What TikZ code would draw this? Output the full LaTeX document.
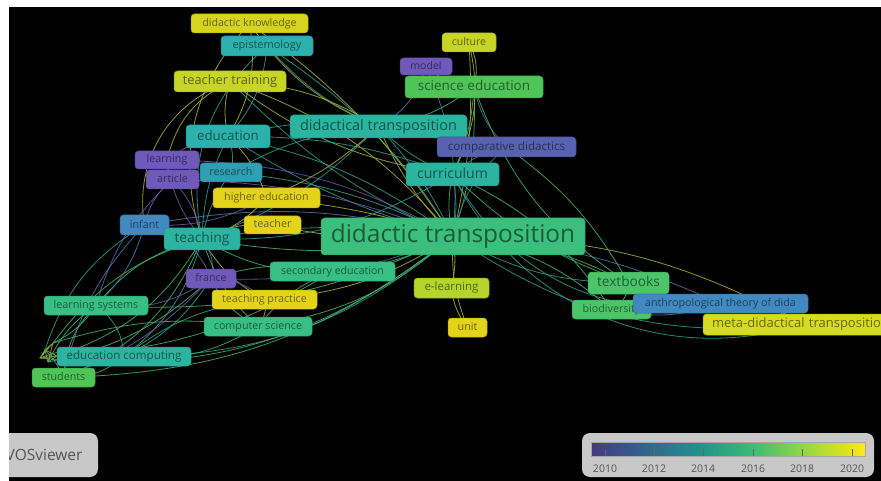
\documentclass[tikz,border=0pt]{standalone}
\usepackage{fontspec}
\setmainfont{Open Sans}
\pgfdeclarelayer{bg}\pgfdeclarelayer{edges}\pgfdeclarelayer{front}
\pgfsetlayers{bg,edges,main,front}
\newcommand\fsz[1]{\fontsize{#1}{#1}\selectfont}
\newcommand\kwstrut{\vrule height .74em depth .2em width 0pt\relax}
% node colours
\definecolor{cYel}{HTML}{E4D31B}
\definecolor{cYelA}{HTML}{D6D41F}
\definecolor{cYelG}{HTML}{C6D526}
\definecolor{cYelM}{HTML}{D7DC22}
\definecolor{cLime}{HTML}{B7D42C}
\definecolor{cGreen}{HTML}{4FC558}
\definecolor{cGreenB}{HTML}{4CC46A}
\definecolor{cGreenT}{HTML}{38BF84}
\definecolor{cDT}{HTML}{3BBF7C}
\definecolor{cTeal}{HTML}{2BB4A0}
\definecolor{cCyan}{HTML}{2CB1AD}
\definecolor{cTealB}{HTML}{2F9FB3}
\definecolor{cBlue}{HTML}{4189C0}
\definecolor{cPurp}{HTML}{7159BC}
\definecolor{cPurpB}{HTML}{5862AE}
% edge colours
\definecolor{edT}{HTML}{2F9E8C}
\definecolor{edY}{HTML}{A9B235}
\definecolor{edG}{HTML}{47B26E}
\definecolor{edB}{HTML}{4A78A8}
\definecolor{edP}{HTML}{6A5AA8}
% legend
\definecolor{legbg}{HTML}{C8C8C8}
\definecolor{legtx}{HTML}{555555}
\definecolor{v0}{HTML}{443A83}
\definecolor{v1}{HTML}{2F6C8E}
\definecolor{v2}{HTML}{21958A}
\definecolor{v3}{HTML}{3DBC74}
\definecolor{v4}{HTML}{90D743}
\definecolor{v5}{HTML}{E8E419}
\definecolor{v6}{HTML}{FDE725}
\pgfdeclarehorizontalshading{viridisbar}{100bp}{color(0bp)=(v0); color(25bp)=(v0); color(36.5bp)=(v1); color(45.4bp)=(v2); color(54.6bp)=(v3); color(63.5bp)=(v4); color(72.6bp)=(v5); color(75bp)=(v6); color(100bp)=(v6)}
\tikzset{
  kw/.style={rectangle, rounded corners=3.5pt, fill=#1, draw=#1!80!black, line width=0.5pt,
    text=#1!48!black, inner sep=0pt, execute at begin node={\kwstrut}},
  ed/.style={line width=0.8pt, opacity=0.85},
  eT/.style={ed, draw=edT},
  eY/.style={ed, draw=edY},
  eG/.style={ed, draw=edG},
  eB/.style={ed, draw=edB},
  eP/.style={ed, draw=edP},
  legbox/.style={fill=legbg, rounded corners=8pt},
  ticklab/.style={font=\fsz{10.5}, text=legtx, inner sep=0pt},
}
\begin{document}
\begin{tikzpicture}[x=1pt,y=-1pt]
\useasboundingbox (0,0) rectangle (881,481);
\begin{pgfonlayer}{bg}
  \fill[white] (0,0) rectangle (881,481);
  \fill[black] (9,7) rectangle (881,481);
\end{pgfonlayer}

% ---------------- nodes ----------------
\node[kw=cYelA, minimum width=117pt, minimum height=19pt, font=\fsz{10.6}] (dk) at (249.5,23.5) {didactic knowledge};
\node[kw=cCyan, minimum width=92pt, minimum height=20pt, font=\fsz{11}] (epi) at (267,46) {epistemology};
\node[kw=cYelG, minimum width=112pt, minimum height=21pt, font=\fsz{12.8}] (tt) at (230,81.5) {teacher training};
\node[kw=cYelG, minimum width=54pt, minimum height=19pt, font=\fsz{10.5}] (cul) at (469,42.5) {culture};
\node[kw=cPurp, minimum width=52pt, minimum height=17pt, font=\fsz{10.5}] (mod) at (426,66.5) {model};
\node[kw=cGreen, minimum width=138pt, minimum height=22pt, font=\fsz{13.5}] (se) at (474,87) {science education};
\node[kw=cTeal, minimum width=177pt, minimum height=23pt, font=\fsz{14.5}] (dtr) at (378.5,126.5) {didactical transposition};
\node[kw=cPurpB, minimum width=139pt, minimum height=20pt, font=\fsz{11.6}] (cd) at (506.5,147) {comparative didactics};
\node[kw=cTeal, minimum width=93pt, minimum height=23pt, font=\fsz{14}] (cur) at (452.5,174.5) {curriculum};
\node[kw=cCyan, minimum width=84pt, minimum height=23pt, font=\fsz{13.3}] (edu) at (228,136.5) {education};
\node[kw=cPurp, minimum width=64pt, minimum height=18pt, font=\fsz{10.7}] (lrn) at (167,160) {learning};
\node[kw=cPurp, minimum width=53pt, minimum height=19pt, font=\fsz{10.7}] (art) at (172.5,179.5) {article};
\node[kw=cTealB, minimum width=62pt, minimum height=19pt, font=\fsz{10.7}] (res) at (231,172.5) {research};
\node[kw=cYel, minimum width=107pt, minimum height=20pt, font=\fsz{10.7}] (he) at (266.5,198) {higher education};
\node[kw=cYel, minimum width=57pt, minimum height=18pt, font=\fsz{10.7}] (tea) at (272.5,225) {teacher};
\node[kw=cBlue, minimum width=49pt, minimum height=20pt, font=\fsz{10.7}] (inf) at (144.5,225) {infant};
\node[kw=cTeal, minimum width=76pt, minimum height=22pt, font=\fsz{13.8}] (tch) at (202,239) {teaching};
\node[kw=cPurp, minimum width=50pt, minimum height=19pt, font=\fsz{10.7}] (fr) at (211,278.5) {france};
\node[kw=cGreenT, minimum width=125pt, minimum height=19pt, font=\fsz{10.6}] (sec) at (332.5,271.5) {secondary education};
\node[kw=cYel, minimum width=105pt, minimum height=19pt, font=\fsz{10.7}] (tp) at (264.5,299.5) {teaching practice};
\node[kw=cGreenT, minimum width=104pt, minimum height=19pt, font=\fsz{10.8}] (ls) at (96,305.5) {learning systems};
\node[kw=cGreenT, minimum width=108pt, minimum height=19pt, font=\fsz{10.7}] (cs) at (258,326.5) {computer science};
\node[kw=cTeal, minimum width=134pt, minimum height=19pt, font=\fsz{11.6}] (ec) at (124,356.5) {education computing};
\node[kw=cGreen, minimum width=63pt, minimum height=19pt, font=\fsz{10.7}] (stu) at (63.5,377.5) {students};
\node[kw=cDT, minimum width=264pt, minimum height=37pt, font=\fsz{24.4}] (dt) at (453,236.5) {didactic transposition};
\node[kw=cLime, minimum width=75pt, minimum height=20pt, font=\fsz{11.5}] (el) at (451.5,288) {e-learning};
\node[kw=cYel, minimum width=39pt, minimum height=19pt, font=\fsz{10.7}] (unit) at (467.5,327.5) {unit};
\node[kw=cGreenB, minimum width=81pt, minimum height=22pt, font=\fsz{13.7}] (tb) at (628.5,283) {textbooks};
\node[kw=cGreenB, minimum width=79pt, minimum height=19pt, font=\fsz{10.7}] (bio) at (611.5,309.5) {biodiversity};
\node[kw=cBlue, minimum width=175pt, minimum height=19pt, font=\fsz{10.7}] (atd) at (720.5,303.5) {anthropological theory of dida};
\node[kw=cYelM, minimum width=200pt, minimum height=21pt, font=\fsz{13}, text width=182pt, align=left] (meta) at (803,324.5) {meta-didactical transposition};

% hidden cluster points (the dense star near "students")
\coordinate (h1) at (45,350);
\coordinate (h2) at (53,343);
\coordinate (h3) at (40,358);
\coordinate (h4) at (57,356);
\coordinate (h5) at (48,362);

% ---------------- edges ----------------
\begin{pgfonlayer}{edges}
% hub: didactic transposition
\draw[eT] (dt.center) to[bend right=8] (dtr.center);
\draw[eY] (dt.center) to[bend left=10] (dtr.center);
\draw[eT] (dt.center) to[bend right=10] (cur.center);
\draw[eG] (dt.center) to[bend left=12] (cur.center);
\draw[eG] (dt.center) to[bend right=10] (se.center);
\draw[eY] (dt.center) to[bend right=8] (cul.center);
\draw[eB] (dt.center) to[bend right=14] (mod.center);
\draw[eB] (dt.center) to[bend left=18] (cd.center);
\draw[eT] (dt.center) to[bend right=12] (epi.center);
\draw[eY] (dt.center) to[bend right=10] (dk.center);
\draw[eY] (dt.center) to[bend right=15] (tt.center);
\draw[eT] (dt.center) to[bend left=10] (tt.center);
\draw[eT] (dt.center) to[bend right=12] (edu.center);
\draw[eT] (dt.center) to[bend left=8] (edu.center);
\draw[eT] (dt.center) to[bend right=10] (res.center);
\draw[eY] (dt.center) to[bend right=6] (he.center);
\draw[eY] (dt.center) to[bend left=8] (tea.center);
\draw[eT] (dt.center) to[bend right=8] (tch.center);
\draw[eG] (dt.center) to[bend left=10] (tch.center);
\draw[eB] (dt.center) to[bend right=12] (inf.center);
\draw[eP] (dt.center) to[bend right=14] (lrn.center);
\draw[eP] (dt.center) to[bend right=10] (art.center);
\draw[eP] (dt.center) to[bend left=12] (fr.center);
\draw[eG] (dt.center) to[bend left=10] (sec.center);
\draw[eY] (dt.center) to[bend left=14] (tp.center);
\draw[eG] (dt.center) to[bend left=16] (cs.center);
\draw[eG] (dt.center) to[bend left=14] (ls.center);
\draw[eT] (dt.center) to[bend left=20] (ec.center);
\draw[eG] (dt.center) to[bend left=18] (stu.center);
\draw[eY] (dt.center) to[bend left=10] (el.center);
\draw[eY] (dt.center) to[bend right=12] (unit.center);
\draw[eG] (dt.center) to[bend left=12] (tb.center);
\draw[eT] (dt.center) to[bend right=14] (tb.center);
\draw[eG] (dt.center) to[bend left=16] (bio.center);
\draw[eB] (dt.center) to[bend left=10] (atd.center);
\draw[eY] (dt.center) to[bend left=14] (meta.center);
\draw[eT] (dt.center) to[bend right=20] (meta.center);
% upper cluster
\draw[eT] (cur.center) to[bend right=35] (atd.center);
\draw[eT] (cur.center) to[bend right=40] (meta.center);
\draw[eG] (cur.center) to[bend right=12] (tb.center);
\draw[eG] (cur.center) to[bend left=15] (bio.center);
\draw[eG] (cur.center) to[bend right=10] (se.center);
\draw[eB] (cur.center) to[bend left=14] (cd.center);
\draw[eT] (cur.center) to[bend left=12] (dtr.center);
\draw[eY] (cur.center) to[bend left=14] (tt.center);
\draw[eT] (cur.center) to[bend right=10] (edu.center);
\draw[eT] (cur.center) to[bend left=16] (tch.center);
\draw[eY] (se.center) to[bend right=20] (cul.center);
\draw[eP] (se.center) to[bend left=18] (mod.center);
\draw[eG] (se.center) to[bend left=14] (dtr.center);
\draw[eB] (se.center) to[bend right=16] (cd.center);
\draw[eG] (se.center) to[bend right=18] (tb.center);
\draw[eY] (cul.center) to[bend left=20] (cur.center);
\draw[eB] (mod.center) to[bend left=22] (dtr.center);
\draw[eT] (dtr.center) to[bend right=10] (edu.center);
\draw[eY] (dtr.center) to[bend right=14] (tt.center);
\draw[eT] (dtr.center) to[bend left=12] (epi.center);
\draw[eY] (dtr.center) to[bend left=16] (dk.center);
\draw[eT] (dtr.center) to[bend left=12] (tch.center);
\draw[eY] (dtr.center) to[bend left=10] (he.center);
\draw[eT] (dtr.center) to[bend right=12] (res.center);
\draw[eY] (edu.center) to[bend left=14] (tt.center);
\draw[eT] (edu.center) to[bend right=18] (epi.center);
\draw[eT] (edu.center) to[bend left=16] (res.center);
\draw[eP] (edu.center) to[bend right=16] (lrn.center);
\draw[eY] (edu.center) to[bend left=14] (he.center);
\draw[eT] (edu.center) to[bend right=12] (tch.center);
\draw[eY] (tt.center) to[bend right=40] (inf.center);
\draw[eY] (tt.center) to[bend right=25] (lrn.center);
\draw[eT] (epi.center) to[bend right=30] (tch.center);
\draw[eY] (dk.center) to[bend right=30] (tch.center);
\draw[eY] (dk.center) to[bend left=20] (edu.center);
% teaching cluster
\draw[eB] (tch.center) to[bend left=20] (inf.center);
\draw[eP] (tch.center) to[bend right=15] (art.center);
\draw[eP] (tch.center) to[bend left=15] (lrn.center);
\draw[eT] (tch.center) to[bend left=12] (res.center);
\draw[eY] (tch.center) to[bend right=15] (he.center);
\draw[eY] (tch.center) to[bend left=15] (tea.center);
\draw[eP] (tch.center) to[bend left=25] (fr.center);
\draw[eG] (tch.center) to[bend right=16] (sec.center);
\draw[eY] (tch.center) to[bend right=15] (tp.center);
\draw[eG] (tch.center) to[bend right=18] (ls.center);
\draw[eT] (tch.center) to[bend left=18] (ec.center);
\draw[eG] (tch.center) to[bend left=22] (stu.center);
\draw[eG] (tch.center) to[bend right=14] (cs.center);
\draw[eP] (fr.center) to[bend left=20] (tp.center);
\draw[eG] (fr.center) to[bend right=18] (cs.center);
\draw[eG] (fr.center) to[bend left=14] (sec.center);
\draw[eP] (fr.center) to[bend left=20] (ls.center);
\draw[eT] (fr.center) to[bend left=15] (ec.center);
\draw[eP] (fr.center) to[bend right=30] (inf.center);
\draw[eG] (ls.center) to[bend right=20] (stu.center);
\draw[eT] (ls.center) to[bend left=25] (ec.center);
\draw[eB] (ls.center) to[bend right=15] (inf.center);
\draw[eP] (ls.center) to[bend left=15] (art.center);
\draw[eG] (ec.center) to[bend left=20] (stu.center);
\draw[eG] (ec.center) to[bend right=18] (cs.center);
\draw[eT] (ec.center) to[bend left=15] (tp.center);
\draw[eG] (cs.center) to[bend left=15] (sec.center);
\draw[eY] (cs.center) to[bend right=25] (tp.center);
\draw[eB] (stu.center) to[bend left=15] (inf.center);
\draw[eP] (stu.center) to[bend right=12] (fr.center);
\draw[eP] (inf.center) to[bend left=18] (art.center);
\draw[eP] (art.center) to[bend left=20] (lrn.center);
\draw[eP] (inf.center) to[bend right=15] (he.center);
% star near students
\draw[eY] (h1) -- (h2) -- (h3) -- (h4) -- (h5) -- (h1) -- (h4) (h2) -- (h5) (h3) -- (h1);
\draw[eG] (h1) to[bend left=10] (stu.center);
\draw[eG] (h2) to[bend right=15] (ls.center);
\draw[eG] (h3) to[bend left=20] (ec.center);
\draw[eG] (h4) to[bend right=20] (tch.center);
\draw[eG] (h5) to[bend right=15] (fr.center);
\draw[eG] (h2) to[bend left=12] (cs.center);
\draw[eT] (h1) to[bend left=20] (inf.center);
\draw[eG] (h4) to[bend right=14] (sec.center);
\draw[eG] (h3) to[bend right=22] (dt.center);
\draw[eG] (h5) to[bend left=14] (ls.center);
\draw[eG] (h2) to[bend left=18] (tch.center);
% right cluster
\draw[eG] (tb.center) to[bend left=30] (bio.center);
\draw[eB] (bio.center) to[bend right=15] (atd.center);
\draw[eY] (atd.center) to[bend left=20] (meta.center);
\draw[eY] (el.center) to[bend right=15] (unit.center);
\draw[eG] (tb.center) to[bend right=12] (cd.center);
\end{pgfonlayer}

% ---------------- legends ----------------
\node[legbox, minimum width=112pt, minimum height=44pt, inner sep=0pt] (vosbox) at (42,455) {};
\node[font=\fsz{15.5}, text=legtx, anchor=west, inner sep=0pt] (vos) at (5.5,455) {VOSviewer};

\node[legbox, minimum width=292pt, minimum height=44pt, inner sep=0pt] (legend) at (728,455) {};
\node[draw=gray!70, line width=0.5pt, shading=viridisbar, minimum width=274pt, minimum height=14pt, inner sep=0pt] (bar) at (728,449) {};
\foreach \yr/\xx in {2010/605,2012/654,2014/703,2016/753,2018/802,2020/852}{
  \coordinate (t\yr) at (\xx,456);
  \draw[gray!80!black, line width=0.6pt] (t\yr) -- ++(0,-7);
  \node[ticklab] (l\yr) at (\xx,468.5) {\yr};
}

\begin{pgfonlayer}{front}
  \fill[white] (0,0) rectangle (9,481);
  \fill[white] (0,0) rectangle (881,7);
\end{pgfonlayer}
\end{tikzpicture}
\end{document}
